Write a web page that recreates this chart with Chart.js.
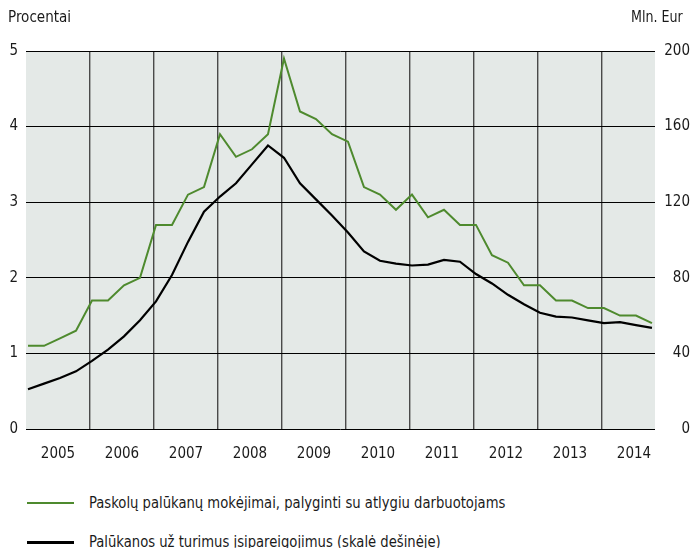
<!DOCTYPE html>
<html>
<head>
<meta charset="utf-8">
<script src="https://cdn.jsdelivr.net/npm/chart.js@4"></script>
<style>
  body { margin: 0; background: #fff; }
  #wrap { position: relative; width: 690px; height: 548px; overflow: hidden;
          font-family: "DejaVu Sans Condensed", "Liberation Sans", sans-serif; color: #1a1a1a; }
  #chart { position: absolute; left: 0; top: 0; }
  .unit { position: absolute; top: 7px; font-size: 16px; white-space: nowrap; }
  .leg { position: absolute; left: 27px; font-size: 16px; height: 20px; line-height: 20px; }
  .leg span.sw { position: absolute; left: 0; top: 9px; width: 47px; height: 2px; }
  .leg span.tx { position: absolute; left: 62px; white-space: nowrap; transform: scaleX(0.915); transform-origin: left center; }
</style>
</head>
<body>
<div id="wrap">
  <canvas id="chart" width="690" height="470"></canvas>
  <div class="unit" style="left:8px; transform:scaleX(0.94); transform-origin:left center">Procentai</div>
  <div class="unit" style="right:7px; transform:scaleX(0.88); transform-origin:right center">Mln. Eur</div>
  <div class="leg" style="top:493px"><span class="sw" style="background:#4e8a2e"></span><span class="tx">Paskolų palūkanų mokėjimai, palyginti su atlygiu darbuotojams</span></div>
  <div class="leg" style="top:532px"><span class="sw" style="background:#000;height:2.5px"></span><span class="tx">Palūkanos už turimus įsipareigojimus (skalė dešinėje)</span></div>
</div>
<script>
// quarterly data 2005Q1 - 2014Q4
const years = ['2005','2006','2007','2008','2009','2010','2011','2012','2013','2014'];
const paymentsPct = [1.1, 1.1, 1.2, 1.3, 1.7, 1.7, 1.9, 2.0, 2.7, 2.7, 3.1, 3.2,
  3.9, 3.6, 3.7, 3.9, 4.9, 4.2, 4.1, 3.9, 3.8, 3.2, 3.1, 2.9,
  3.1, 2.8, 2.9, 2.7, 2.7, 2.3, 2.2, 1.9, 1.9, 1.7, 1.7, 1.6,
  1.6, 1.5, 1.5, 1.4];
const interestMln = [21, 24, 27, 30.5, 36, 42, 49, 57.5, 67.5, 81.5, 99, 115,
  123, 130, 140, 150, 143.5, 130, 121.5, 113, 104, 94, 89, 87.5,
  86.5, 87, 89.5, 88.5, 82, 77, 71, 66, 61.5, 59.5, 59, 57.5,
  56, 56.5, 55, 53.5];
const leftTicks = [0, 1, 2, 3, 4, 5];
const rightTicks = [0, 40, 80, 120, 160, 200];

const toXY = arr => arr.map((v, i) => ({ x: i, y: v }));
const fontSpec = { family: '"DejaVu Sans Condensed", "Liberation Sans", sans-serif', size: 15 };

const plotBg = {
  id: 'plotBg',
  beforeDraw(chart) {
    const { ctx, chartArea: a } = chart;
    ctx.save();
    ctx.fillStyle = '#e4e9e7';
    ctx.fillRect(a.left, a.top, a.right - a.left, a.bottom - a.top);
    ctx.restore();
  }
};

new Chart(document.getElementById('chart'), {
  type: 'line',
  data: {
    datasets: [
      { data: toXY(paymentsPct), yAxisID: 'y', borderColor: '#4e8a2e', borderWidth: 2, pointRadius: 0, tension: 0, order: 2 },
      { data: toXY(interestMln), yAxisID: 'y2', borderColor: '#000', borderWidth: 2.2, pointRadius: 0, tension: 0, order: 1 }
    ]
  },
  options: {
    responsive: false,
    animation: false,
    layout: { padding: { top: 51, bottom: 0, left: 0, right: 0 } },
    plugins: { legend: { display: false }, tooltip: { enabled: false } },
    scales: {
      xg: {
        type: 'linear', position: 'bottom', min: -0.125, max: 39.19,
        afterBuildTicks: s => { s.ticks = years.slice(1).map((y, i) => ({ value: 3.875 + 4 * i })); },
        grid: { color: '#4a4a4a', lineWidth: 1.4, drawTicks: false },
        border: { display: false },
        ticks: { display: false },
        afterFit: s => { s.height = 0; }
      },
      x: {
        type: 'linear', position: 'bottom', min: -0.125, max: 39.19,
        afterBuildTicks: s => { s.ticks = years.map((y, i) => ({ value: 1.875 + 4 * i })); },
        grid: { display: false },
        border: { display: false },
        ticks: { color: '#1a1a1a', font: fontSpec, padding: 8, maxRotation: 0, autoSkip: false,
                 callback: (v, i) => years[i] },
        afterFit: s => { s.height = 41; }
      },
      y: {
        position: 'left', min: 0, max: 5,
        afterBuildTicks: s => { s.ticks = leftTicks.map(v => ({ value: v })); },
        grid: { color: '#000', lineWidth: 1, drawTicks: false },
        border: { display: false },
        ticks: { color: '#1a1a1a', font: fontSpec, padding: 8 },
        afterFit: s => { s.width = 26; }
      },
      y2: {
        position: 'right', min: 0, max: 200,
        afterBuildTicks: s => { s.ticks = rightTicks.map(v => ({ value: v })); },
        grid: { display: false },
        border: { display: false },
        ticks: { color: '#1a1a1a', font: fontSpec, padding: 7, crossAlign: 'far' },
        afterFit: s => { s.width = 35; }
      }
    }
  },
  plugins: [plotBg]
});
</script>
</body>
</html>
